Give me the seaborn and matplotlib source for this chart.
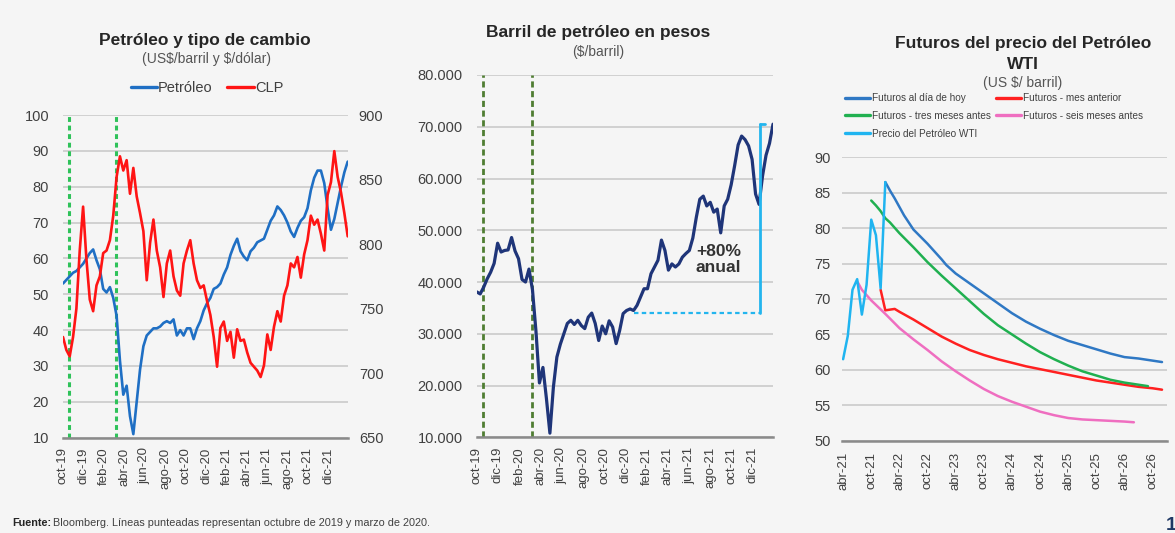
import numpy as np
import pandas as pd
import matplotlib
matplotlib.use("Agg")
import matplotlib.pyplot as plt
from matplotlib.lines import Line2D
from matplotlib.ticker import FuncFormatter
import seaborn as sns

# ---------------- data ----------------
# Left panel: 10-day samples starting 2019-10-01
petroleo = [53.0, 54.0, 55.0, 56.0, 56.5, 57.5, 58.5, 60.0, 61.5, 62.5,
            59.5, 57.0, 51.5, 50.5, 52.0, 49.0, 44.0, 31.5, 22.0, 24.5,
            16.0, 11.0, 20.0, 29.0, 35.5, 38.5, 39.5, 40.5, 40.5, 41.0,
            42.0, 42.5, 42.0, 43.0, 38.5, 40.0, 38.5, 40.5, 40.5, 37.5,
            40.5, 42.5, 45.5, 47.5, 49.0, 51.5, 52.0, 53.0, 55.5, 57.5,
            61.0, 63.5, 65.5, 62.0, 60.5, 59.5, 62.0, 63.0, 64.5, 65.0,
            65.5, 68.0, 70.5, 72.0, 74.5, 73.5, 72.0, 70.0, 67.5, 66.0,
            68.5, 70.5, 71.5, 74.0, 79.0, 82.5, 84.5, 84.5, 81.0, 74.0,
            68.0, 71.0, 75.5, 80.0, 84.0, 87.0]
clp = [728, 718, 713, 728, 750, 795, 829, 788, 757, 748,
       768, 775, 793, 795, 803, 822, 852, 868, 857, 865,
       839, 859, 837, 824, 810, 772, 801, 819, 795, 782,
       759, 785, 795, 775, 764, 760, 785, 795, 803, 785,
       772, 766, 768, 756, 745, 728, 705, 735, 740, 725,
       732, 712, 734, 725, 726, 716, 708, 705, 702, 697,
       706, 730, 718, 736, 748, 740, 760, 768, 785, 782,
       790, 774, 792, 803, 822, 815, 819, 808, 795, 838,
       848, 872, 852, 840, 824, 806]
# Middle panel: barrel in pesos, same dates
barril_pesos = [38100, 37700, 39000, 40600, 41900, 43600, 47500, 45800, 46100, 46200,
                48600, 46000, 44500, 40500, 40000, 42500, 38500, 30500, 20500, 23500,
                17500, 10800, 19700, 25500, 28000, 30000, 32000, 32600, 31800, 32600,
                31600, 31000, 33200, 34000, 32000, 28700, 31500, 30000, 32500, 31300,
                28100, 30600, 33900, 34500, 34800, 34500, 35500, 37100, 38700, 38700,
                41600, 42900, 44200, 48100, 46100, 42300, 43500, 42900, 43500, 44800,
                45500, 46100, 48500, 52500, 56000, 56600, 54700, 55400, 53500, 54100,
                49500, 54700, 56000, 58800, 62500, 66500, 68200, 67500, 66300, 63700,
                57000, 55000, 60500, 64500, 66800, 70500]
fecha_inicio = "2019-10-01"
lineas_punteadas = ["2019-10-18", "2020-03-08"]
anual_fechas = ["2020-12-26", "2021-12-22", "2022-01-06"]
anual_valores = [34000, 70500]

# Right panel: months since abr-21
wti_mes = [0, 1, 2, 3, 4, 5, 6, 7, 8, 9]
wti = [61.5, 64.8, 71.3, 72.8, 67.8, 72.0, 81.2, 79.0, 71.5, 86.5]
hoy_mes = [9, 10, 11, 12, 13, 14, 15, 18, 21, 22, 24, 27, 30, 33, 36, 39, 42, 45, 48, 51, 54, 57, 60, 63, 66, 68]
hoy = [86.5, 85.3, 84.2, 83.0, 81.8, 80.8, 79.8, 77.8, 75.6, 74.8, 73.6, 72.2, 70.8, 69.4, 68.0,
       66.8, 65.8, 64.9, 64.1, 63.5, 62.9, 62.3, 61.8, 61.6, 61.3, 61.1]
mes_ant_mes = [8, 9, 10, 11, 12, 15, 18, 21, 24, 27, 30, 33, 36, 39, 42, 45, 48, 51, 54, 57, 60, 63, 66, 68]
mes_ant = [71.3, 68.4, 68.5, 68.6, 68.2, 67.1, 65.9, 64.7, 63.7, 62.8, 62.1, 61.5, 61.0, 60.5,
           60.1, 59.7, 59.3, 58.9, 58.5, 58.2, 57.9, 57.6, 57.4, 57.2]
tres_mes = [6, 7, 8, 9, 10, 12, 15, 18, 21, 24, 27, 30, 33, 36, 39, 42, 45, 48, 51, 54, 57, 60, 63, 65]
tres = [83.9, 83.2, 82.4, 81.4, 80.8, 79.3, 77.3, 75.2, 73.3, 71.5, 69.7, 67.9, 66.3, 65.0, 63.7,
        62.5, 61.5, 60.6, 59.8, 59.2, 58.6, 58.2, 57.9, 57.7]
seis_mes = [3, 4, 6, 9, 12, 15, 18, 21, 24, 27, 30, 33, 36, 39, 42, 45, 48, 51, 54, 57, 60, 62]
seis = [72.5, 71.3, 69.8, 67.9, 65.9, 64.3, 62.8, 61.2, 59.8, 58.5, 57.3, 56.3, 55.5, 54.8,
        54.1, 53.6, 53.2, 53.0, 52.9, 52.8, 52.7, 52.6]
fut_ticks = ["abr-21", "oct-21", "abr-22", "oct-22", "abr-23", "oct-23",
             "abr-24", "oct-24", "abr-25", "oct-25", "abr-26", "oct-26"]
meses_es = ["ene", "feb", "mar", "abr", "may", "jun", "jul", "ago", "sep", "oct", "nov", "dic"]

# ---------------- style ----------------
sns.set_theme(style="white")
plt.rcParams["font.family"] = ["Liberation Sans", "DejaVu Sans"]
TXT = "#404040"
GRID = "#cacaca"
W, H = 1175, 533
TITLE_FS = 12.5
SUB_FS = 10
YT_FS = 10.5
XT_FS = 9.5

fig = plt.figure(figsize=(W / 100, H / 100), dpi=100)
fig.patch.set_facecolor("#f5f5f5")


def px_axes(x0, y0, x1, y1):
    return fig.add_axes([x0 / W, 1 - y1 / H, (x1 - x0) / W, (y1 - y0) / H])


def ftext(x, y, s, **kw):
    return fig.text(x / W, 1 - y / H, s, parse_math=False, **kw)


def style(ax, ypad, xpad):
    ax.set_facecolor("none")
    for s in ["top", "right", "left"]:
        ax.spines[s].set_visible(False)
    ax.spines["bottom"].set_color("#8a8a8a")
    ax.spines["bottom"].set_linewidth(1.8)
    ax.grid(axis="y", color=GRID, linewidth=1.2)
    ax.grid(axis="x", visible=False)
    ax.tick_params(axis="y", length=0, pad=ypad, labelsize=YT_FS, labelcolor=TXT)
    ax.tick_params(axis="x", length=0, pad=xpad, labelsize=XT_FS, labelcolor=TXT, labelrotation=90)
    ax.set_xlabel("")
    ax.set_ylabel("")


dates = pd.date_range(fecha_inicio, periods=len(petroleo), freq="10D")
tick_dates = pd.date_range("2019-10-01", "2021-12-01", freq="2MS")
tick_labels = [f"{meses_es[d.month - 1]}-{d.year % 100:02d}" for d in tick_dates]

# ---------------- left panel ----------------
ax1 = px_axes(63, 115, 347.7, 437.7)
sns.lineplot(x=dates, y=petroleo, ax=ax1, color="#1f6fc4", linewidth=1.9)
for d in lineas_punteadas:
    ax1.axvline(pd.Timestamp(d), color="#2fc25a", linestyle=(0, (1.6, 1.2)), linewidth=2.2, zorder=1)
ax1.set_ylim(10, 100)
ax1.set_yticks(np.arange(10, 101, 10))
ax1.set_xlim(dates[0], dates[-1])
ax1.set_xticks(tick_dates)
ax1.set_xticklabels(tick_labels)
style(ax1, 10, 7)
ax2 = ax1.twinx()
sns.lineplot(x=dates, y=clp, ax=ax2, color="#ff1414", linewidth=1.9)
ax2.set_ylim(650, 900)
ax2.set_yticks(np.arange(650, 901, 50))
ax2.set_facecolor("none")
for s in ["top", "right", "left", "bottom"]:
    ax2.spines[s].set_visible(False)
ax2.tick_params(axis="y", length=0, pad=8, labelsize=YT_FS, labelcolor=TXT)
ax2.grid(False)
ax2.set_ylabel("")

ftext(205, 40, "Petróleo y tipo de cambio", ha="center", va="center",
      fontsize=TITLE_FS, fontweight="bold", color="#262626")
ftext(206, 59, "(US$/barril y $/dólar)", ha="center", va="center", fontsize=SUB_FS, color="#555555")
leg_handles = [Line2D([0], [0], color="#1f6fc4", lw=2.4), Line2D([0], [0], color="#ff1414", lw=2.4)]
fig.legend(leg_handles, ["Petróleo", "CLP"], loc="center", bbox_to_anchor=(207 / W, 1 - 88 / H),
           ncol=2, frameon=False, fontsize=10.5, handlelength=1.8, handletextpad=0.1,
           columnspacing=1.0, labelcolor=TXT, borderpad=0)

# ---------------- middle panel ----------------
axm = px_axes(476.7, 75, 773, 437.3)
sns.lineplot(x=dates, y=barril_pesos, ax=axm, color="#1f3579", linewidth=2.3)
for d in lineas_punteadas:
    axm.axvline(pd.Timestamp(d), color="#4f7d32", linestyle=(0, (2.2, 1.3)), linewidth=2.0, zorder=1)
a0, a1, a2 = [pd.Timestamp(d) for d in anual_fechas]
axm.plot([a0, a1], [anual_valores[0], anual_valores[0]], color="#23b5ee", linestyle=(0, (2, 1.5)), linewidth=1.6)
axm.plot([a1, a1], [anual_valores[0], anual_valores[1]], color="#23b5ee", linewidth=2.0)
axm.plot([a1, a2], [anual_valores[1], anual_valores[1]], color="#23b5ee", linewidth=2.0)
axm.text(pd.Timestamp("2021-08-25"), 44300, "+80%\nanual", ha="center", va="center",
         fontsize=12.5, fontweight="bold", color="#333333", linespacing=1.1)
axm.set_ylim(10000, 80000)
axm.set_yticks(np.arange(10000, 80001, 10000))
axm.yaxis.set_major_formatter(FuncFormatter(lambda v, p: f"{int(v):,}".replace(",", ".")))
axm.set_xlim(dates[0], dates[-1])
axm.set_xticks(tick_dates)
axm.set_xticklabels(tick_labels)
style(axm, 10, 7)
ftext(598, 32, "Barril de petróleo en pesos", ha="center", va="center",
      fontsize=TITLE_FS, fontweight="bold", color="#262626")
ftext(598, 52, "($/barril)", ha="center", va="center", fontsize=SUB_FS, color="#555555")

# ---------------- right panel ----------------
axr = px_axes(841.7, 157.3, 1166.7, 440.7)
c_hoy, c_ant, c_tres, c_seis, c_wti = "#2f78c4", "#ff2020", "#20b050", "#ef6ec0", "#1fb4f0"
sns.lineplot(x=hoy_mes, y=hoy, ax=axr, color=c_hoy, linewidth=1.8)
sns.lineplot(x=mes_ant_mes, y=mes_ant, ax=axr, color=c_ant, linewidth=1.8)
sns.lineplot(x=tres_mes, y=tres, ax=axr, color=c_tres, linewidth=1.8)
sns.lineplot(x=seis_mes, y=seis, ax=axr, color=c_seis, linewidth=1.8)
sns.lineplot(x=wti_mes, y=wti, ax=axr, color=c_wti, linewidth=1.8)
axr.set_ylim(50, 90)
axr.set_yticks(np.arange(50, 91, 5))
axr.set_xlim(-0.3, 69.0)
axr.set_xticks(np.arange(0, 67, 6))
axr.set_xticklabels(fut_ticks)
style(axr, 8, 8)
ftext(1023, 43, "Futuros del precio del Petróleo", ha="center", va="center",
      fontsize=TITLE_FS, fontweight="bold", color="#262626")
ftext(1023, 64, "WTI", ha="center", va="center", fontsize=TITLE_FS, fontweight="bold", color="#262626")
ftext(1023, 83, "(US $/ barril)", ha="center", va="center", fontsize=SUB_FS, color="#555555")
r_handles = [Line2D([0], [0], color=c, lw=2.4) for c in [c_hoy, c_tres, c_wti, c_ant, c_seis]]
r_labels = ["Futuros al día de hoy", "Futuros - tres meses antes", "Precio del Petróleo WTI",
            "Futuros - mes anterior", "Futuros - seis meses antes"]
fig.legend(r_handles, r_labels, loc="upper left", bbox_to_anchor=(845 / W, 1 - 93 / H),
           ncol=2, frameon=False, fontsize=7.2, handlelength=2.5, handletextpad=0.2,
           columnspacing=0.5, labelspacing=0.78, labelcolor=TXT, borderpad=0, borderaxespad=0)

# ---------------- footer ----------------
ftext(12, 523, "Fuente:", ha="left", va="center", fontsize=7.8, fontweight="bold", color="#262626")
ftext(53, 523, "Bloomberg. Líneas punteadas representan octubre de 2019 y marzo de 2020.",
      ha="left", va="center", fontsize=7.8, color="#404040")
ftext(1166, 526, "1", ha="left", va="center", fontsize=14, fontweight="bold", color="#1f3864")

fig.savefig("out.png", dpi=100, facecolor=fig.get_facecolor())
